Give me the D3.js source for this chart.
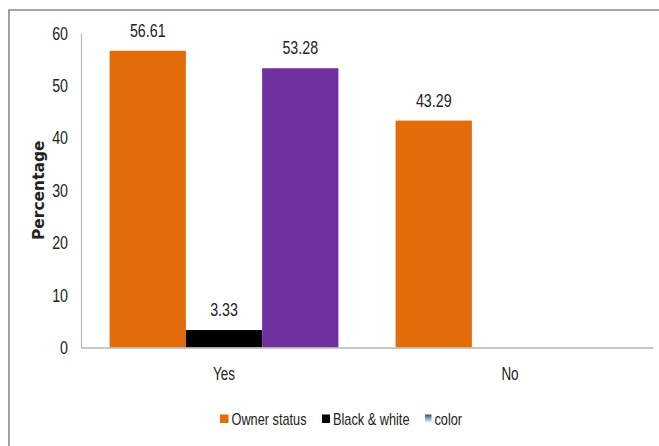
<!DOCTYPE html>
<html>
<head>
<meta charset="utf-8">
<script src="https://cdn.jsdelivr.net/npm/d3@7/dist/d3.min.js"></script>
<style>
  html, body { margin: 0; padding: 0; background: #fff; }
  svg text { font-family: "Liberation Sans", Arial, sans-serif; fill: #222; }
</style>
</head>
<body>
<svg id="chart" width="659" height="446"></svg>
<script>
// Ownership of a TV set, by type of set
const categories = ["Yes", "No"];
const seriesNames = ["Owner status", "Black & white", "color"];
const ownerStatus = [56.61, 43.29];
const blackWhite = [3.33, null];
const colorTv = [53.28, null];
const yTicks = [0, 10, 20, 30, 40, 50, 60];
const seriesColors = ["#E36C0A", "#000000", "#7030A0"];

const series = [ownerStatus, blackWhite, colorTv];

// condensed look for the sans labels
const NARROW = 0.75;

const svg = d3.select("#chart");
const margin = { left: 81, right: 6, top: 33, bottom: 98 };
const W = 659, H = 446;

// outer frame (top and left edges)
svg.append("path")
  .attr("d", `M9,446 L9,10 L659,10`)
  .attr("fill", "none")
  .attr("stroke", "#8a8a8a")
  .attr("stroke-width", 1.6);

const x0 = d3.scaleBand()
  .domain(categories)
  .range([margin.left, W - margin.right])
  .paddingInner(0.2)
  .paddingOuter(0.1);

const x1 = d3.scaleBand()
  .domain(seriesNames)
  .range([0, x0.bandwidth()]);

const y = d3.scaleLinear()
  .domain([0, 60])
  .range([347.5, margin.top]);

function narrowText(parent, x, yPos, str, size, anchor) {
  return parent.append("text")
    .attr("transform", `translate(${x},${yPos}) scale(${NARROW},1)`)
    .attr("text-anchor", anchor || "start")
    .attr("font-size", size)
    .text(str);
}

// y axis
const yAxis = svg.append("g")
  .attr("transform", `translate(${margin.left},0)`)
  .call(d3.axisLeft(y).tickValues(yTicks).tickSize(0).tickPadding(13 / NARROW));
yAxis.select(".domain").attr("stroke", "#b5b5b5").attr("stroke-width", 1.2);
yAxis.selectAll(".tick text")
  .attr("transform", `scale(${NARROW},1)`)
  .attr("font-size", 19)
  .attr("font-family", null)
  .attr("fill", "#222");

// bars
const groups = svg.append("g").selectAll("g")
  .data(categories)
  .join("g")
  .attr("transform", d => `translate(${x0(d)},0)`);

const barData = i => seriesNames.map((s, k) => ({ s, k, v: series[k][i] }))
  .filter(e => e.v != null);

groups.each(function (cat, i) {
  const g = d3.select(this);
  const items = barData(i);
  g.selectAll("rect")
    .data(items)
    .join("rect")
    .attr("x", d => x1(d.s))
    .attr("width", x1.bandwidth())
    .attr("y", d => y(d.v))
    .attr("height", d => y(0) - y(d.v))
    .attr("fill", d => seriesColors[d.k]);
  items.forEach(d => {
    narrowText(g, x1(d.s) + x1.bandwidth() / 2, y(d.v) - 14, d.v.toFixed(2), 19, "middle");
  });
});

// x axis
const xAxis = svg.append("g")
  .attr("transform", `translate(0,${y(0)})`)
  .call(d3.axisBottom(x0).tickSize(0).tickPadding(20).tickSizeOuter(0));
xAxis.select(".domain").attr("stroke", "#b5b5b5").attr("stroke-width", 1.5);
xAxis.selectAll(".tick text")
  .attr("transform", `scale(${NARROW},1)`)
  .attr("font-size", 18)
  .attr("font-family", null)
  .attr("fill", "#222");

// y axis title
svg.append("text")
  .attr("transform", `translate(44,${(y(0) + y(60)) / 2}) rotate(-90)`)
  .attr("text-anchor", "middle")
  .style("font-family", "'DejaVu Sans', Verdana, sans-serif")
  .attr("font-weight", "bold")
  .attr("font-size", 15.5)
  .attr("fill", "#111")
  .text("Percentage");

// legend
const defs = svg.append("defs");
const grad = defs.append("linearGradient")
  .attr("id", "colorSwatch")
  .attr("x1", 0).attr("y1", 0).attr("x2", 0).attr("y2", 1);
grad.append("stop").attr("offset", "0%").attr("stop-color", "#2E4A8A");
grad.append("stop").attr("offset", "100%").attr("stop-color", "#ffffff");

const legendX = [220, 322, 425];
const legendSw = [
  { w: 8.5, fill: seriesColors[0] },
  { w: 8, fill: seriesColors[1] },
  { w: 6.5, fill: "url(#colorSwatch)" }
];
const legend = svg.append("g");
seriesNames.forEach((name, k) => {
  legend.append("rect")
    .attr("x", legendX[k])
    .attr("y", 414.5)
    .attr("width", legendSw[k].w)
    .attr("height", 8.5)
    .attr("fill", legendSw[k].fill);
  narrowText(legend, legendX[k] + legendSw[k].w + 3, 425, name, 17);
});
</script>
</body>
</html>
